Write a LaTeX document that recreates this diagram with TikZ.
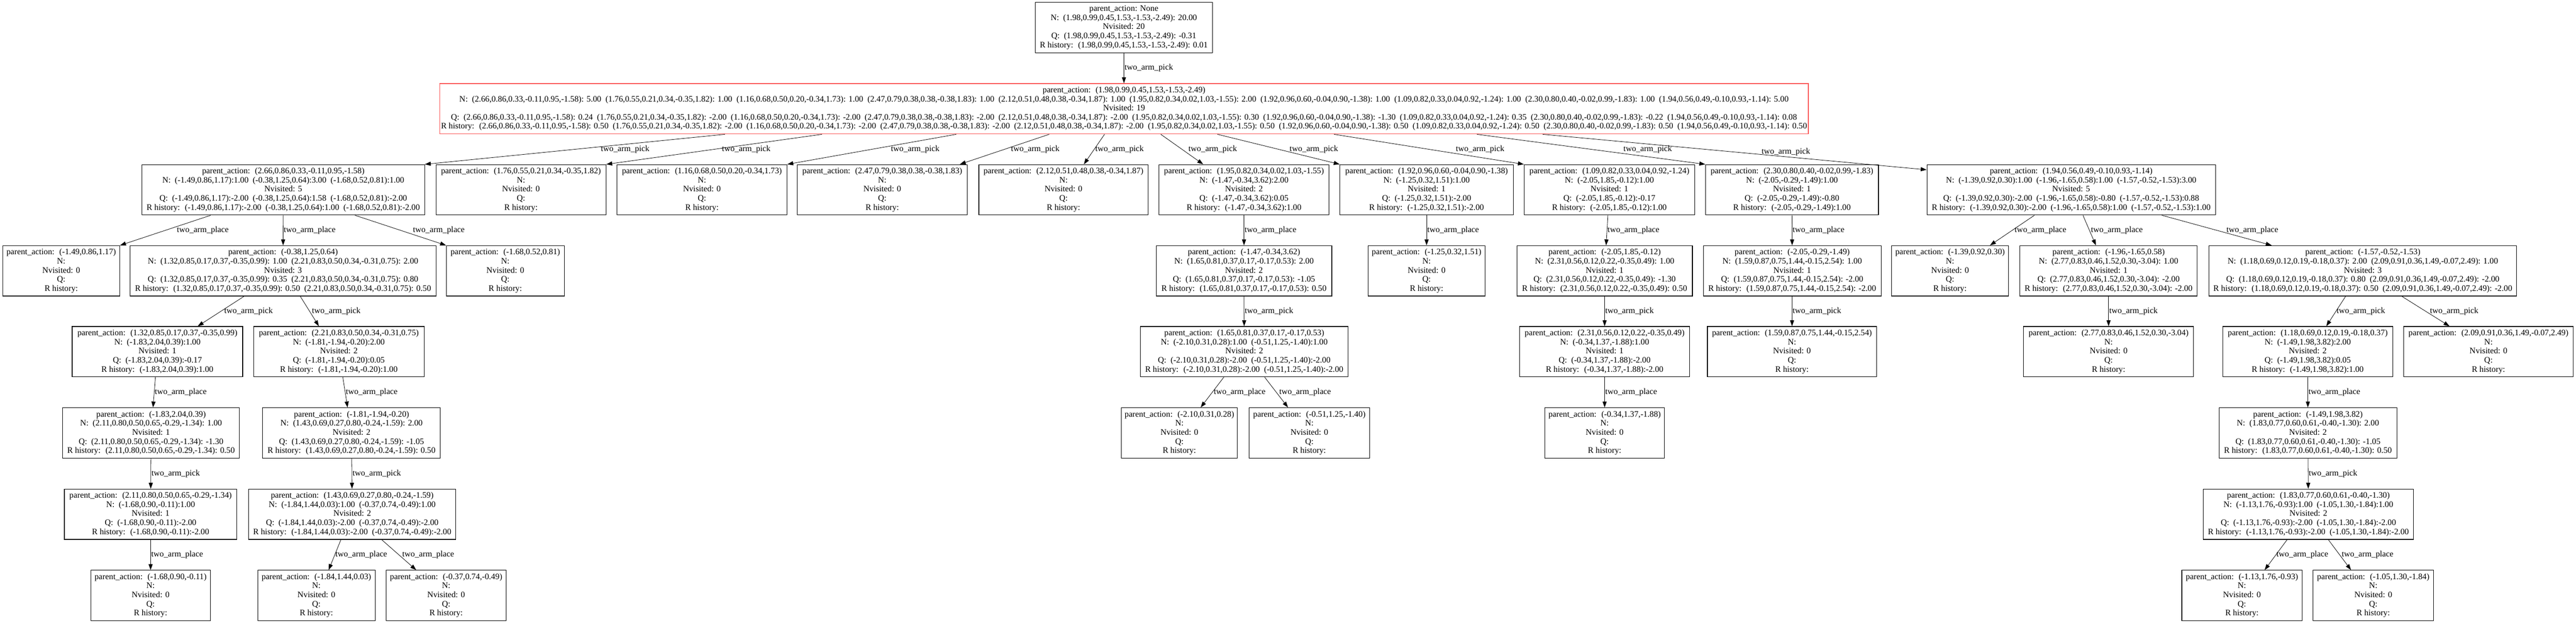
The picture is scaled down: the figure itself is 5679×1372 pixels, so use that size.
\documentclass[tikz,border=0pt]{standalone}
\usepackage{fontspec}
\setmainfont{Liberation Serif}
\usetikzlibrary{arrows.meta,positioning}
\definecolor{hlred}{RGB}{250,85,85}
\newcommand{\leaf}[1]{parent\_action:~ #1\\N:\\Nvisited: 0\\Q:\\R history:}

\begin{document}
\begin{tikzpicture}[x=1pt, y=-1pt,
  box/.style={draw, rectangle, line width=1.3pt, minimum height=111pt, inner xsep=3pt, inner ysep=0pt, align=center, font=\fontsize{18.5}{20}\selectfont},
  hlbox/.style={box, draw=hlred, line width=1.6pt},
  link/.style={-{Triangle[length=13pt, width=9pt]}, line width=0.9pt},
  lbl/.style={midway, anchor=west, inner sep=1pt, font=\fontsize{18.5}{20}\selectfont}]
  \useasboundingbox (0,0) rectangle (5679,1372);

  % actions tried from the expanded node
  \def\actA{(2.66,0.86,0.33,-0.11,0.95,-1.58)}
  \def\actB{(1.76,0.55,0.21,0.34,-0.35,1.82)}
  \def\actC{(1.16,0.68,0.50,0.20,-0.34,1.73)}
  \def\actD{(2.47,0.79,0.38,0.38,-0.38,1.83)}
  \def\actE{(2.12,0.51,0.48,0.38,-0.34,1.87)}
  \def\actF{(1.95,0.82,0.34,0.02,1.03,-1.55)}
  \def\actG{(1.92,0.96,0.60,-0.04,0.90,-1.38)}
  \def\actH{(1.09,0.82,0.33,0.04,0.92,-1.24)}
  \def\actI{(2.30,0.80,0.40,-0.02,0.99,-1.83)}
  \def\actJ{(1.94,0.56,0.49,-0.10,0.93,-1.14)}
  \def\rootact{(1.98,0.99,0.45,1.53,-1.53,-2.49)}

  % Root and the highlighted node
  \node[box, minimum width=391] (root) at (2477.5,60.5) {parent\_action: None\\N:~ \rootact: 20.00\\Nvisited: 20\\Q:~ \rootact: -0.31\\R history:~ \rootact: 0.01};
  \node[hlbox, minimum width=3016] (top) at (2478,239.5) {parent\_action:~ \rootact\\
    N:~ \actA: 5.00~ \actB: 1.00~ \actC: 1.00~ \actD: 1.00~ \actE: 1.00~ \actF: 2.00~ \actG: 1.00~ \actH: 1.00~ \actI: 1.00~ \actJ: 5.00\\
    Nvisited: 19\\
    Q:~ \actA: 0.24~ \actB: -2.00~ \actC: -2.00~ \actD: -2.00~ \actE: -2.00~ \actF: 0.30~ \actG: -1.30~ \actH: 0.35~ \actI: -0.22~ \actJ: 0.08\\
    R history:~ \actA: 0.50~ \actB: -2.00~ \actC: -2.00~ \actD: -2.00~ \actE: -2.00~ \actF: 0.50~ \actG: 0.50~ \actH: 0.50~ \actI: 0.50~ \actJ: 0.50};

  % Level 2: ten picks
  \node[box, minimum width=623] (a) at (624.5,418) {parent\_action:~ \actA\\N:~ (-1.49,0.86,1.17):1.00~ (-0.38,1.25,0.64):3.00~ (-1.68,0.52,0.81):1.00\\Nvisited: 5\\Q:~ (-1.49,0.86,1.17):-2.00~ (-0.38,1.25,0.64):1.58~ (-1.68,0.52,0.81):-2.00\\R history:~ (-1.49,0.86,1.17):-2.00~ (-0.38,1.25,0.64):1.00~ (-1.68,0.52,0.81):-2.00};
  \node[box, minimum width=375] (b) at (1148.5,418) {\leaf{\actB}};
  \node[box, minimum width=375] (c) at (1547.5,418) {\leaf{\actC}};
  \node[box, minimum width=374] (d) at (1945,418) {\leaf{\actD}};
  \node[box, minimum width=373] (e) at (2344.5,418) {\leaf{\actE}};
  \node[box, minimum width=375] (f) at (2742.5,418) {parent\_action:~ \actF\\N:~ (-1.47,-0.34,3.62):2.00\\Nvisited: 2\\Q:~ (-1.47,-0.34,3.62):0.05\\R history:~ (-1.47,-0.34,3.62):1.00};
  \node[box, minimum width=382] (g) at (3145,418) {parent\_action:~ \actG\\N:~ (-1.25,0.32,1.51):1.00\\Nvisited: 1\\Q:~ (-1.25,0.32,1.51):-2.00\\R history:~ (-1.25,0.32,1.51):-2.00};
  \node[box, minimum width=376] (h) at (3548,418) {parent\_action:~ \actH\\N:~ (-2.05,1.85,-0.12):1.00\\Nvisited: 1\\Q:~ (-2.05,1.85,-0.12):-0.17\\R history:~ (-2.05,1.85,-0.12):1.00};
  \node[box, minimum width=381] (i) at (3950.5,418) {parent\_action:~ \actI\\N:~ (-2.05,-0.29,-1.49):1.00\\Nvisited: 1\\Q:~ (-2.05,-0.29,-1.49):-0.80\\R history:~ (-2.05,-0.29,-1.49):1.00};
  \node[box, minimum width=636] (j) at (4566,418) {parent\_action:~ \actJ\\N:~ (-1.39,0.92,0.30):1.00~ (-1.96,-1.65,0.58):1.00~ (-1.57,-0.52,-1.53):3.00\\Nvisited: 5\\Q:~ (-1.39,0.92,0.30):-2.00~ (-1.96,-1.65,0.58):-0.80~ (-1.57,-0.52,-1.53):0.88\\R history:~ (-1.39,0.92,0.30):-2.00~ (-1.96,-1.65,0.58):1.00~ (-1.57,-0.52,-1.53):1.00};

  % Level 3: places
  \node[box, minimum width=258] (a1) at (135,596.5) {\leaf{(-1.49,0.86,1.17)}};
  \node[box, minimum width=674] (a2) at (624,596.5) {parent\_action:~ (-0.38,1.25,0.64)\\N:~ (1.32,0.85,0.17,0.37,-0.35,0.99): 1.00~ (2.21,0.83,0.50,0.34,-0.31,0.75): 2.00\\Nvisited: 3\\Q:~ (1.32,0.85,0.17,0.37,-0.35,0.99): 0.35~ (2.21,0.83,0.50,0.34,-0.31,0.75): 0.80\\R history:~ (1.32,0.85,0.17,0.37,-0.35,0.99): 0.50~ (2.21,0.83,0.50,0.34,-0.31,0.75): 0.50};
  \node[box, minimum width=260] (a3) at (1114,596.5) {\leaf{(-1.68,0.52,0.81)}};
  \node[box, minimum width=387] (f1) at (2742.5,596.5) {parent\_action:~ (-1.47,-0.34,3.62)\\N:~ (1.65,0.81,0.37,0.17,-0.17,0.53): 2.00\\Nvisited: 2\\Q:~ (1.65,0.81,0.37,0.17,-0.17,0.53): -1.05\\R history:~ (1.65,0.81,0.37,0.17,-0.17,0.53): 0.50};
  \node[box, minimum width=258] (g1) at (3145,596.5) {\leaf{(-1.25,0.32,1.51)}};
  \node[box, minimum width=387] (h1) at (3537.5,596.5) {parent\_action:~ (-2.05,1.85,-0.12)\\N:~ (2.31,0.56,0.12,0.22,-0.35,0.49): 1.00\\Nvisited: 1\\Q:~ (2.31,0.56,0.12,0.22,-0.35,0.49): -1.30\\R history:~ (2.31,0.56,0.12,0.22,-0.35,0.49): 0.50};
  \node[box, minimum width=392] (i1) at (3951,596.5) {parent\_action:~ (-2.05,-0.29,-1.49)\\N:~ (1.59,0.87,0.75,1.44,-0.15,2.54): 1.00\\Nvisited: 1\\Q:~ (1.59,0.87,0.75,1.44,-0.15,2.54): -2.00\\R history:~ (1.59,0.87,0.75,1.44,-0.15,2.54): -2.00};
  \node[box, minimum width=258] (j1) at (4299,596.5) {\leaf{(-1.39,0.92,0.30)}};
  \node[box, minimum width=391] (j2) at (4648.5,596.5) {parent\_action:~ (-1.96,-1.65,0.58)\\N:~ (2.77,0.83,0.46,1.52,0.30,-3.04): 1.00\\Nvisited: 1\\Q:~ (2.77,0.83,0.46,1.52,0.30,-3.04): -2.00\\R history:~ (2.77,0.83,0.46,1.52,0.30,-3.04): -2.00};
  \node[box, minimum width=678] (j3) at (5209,596.5) {parent\_action:~ (-1.57,-0.52,-1.53)\\N:~ (1.18,0.69,0.12,0.19,-0.18,0.37): 2.00~ (2.09,0.91,0.36,1.49,-0.07,2.49): 1.00\\Nvisited: 3\\Q:~ (1.18,0.69,0.12,0.19,-0.18,0.37): 0.80~ (2.09,0.91,0.36,1.49,-0.07,2.49): -2.00\\R history:~ (1.18,0.69,0.12,0.19,-0.18,0.37): 0.50~ (2.09,0.91,0.36,1.49,-0.07,2.49): -2.00};

  % Level 4: picks
  \node[box, minimum width=376] (a2a) at (347,774.5) {parent\_action:~ (1.32,0.85,0.17,0.37,-0.35,0.99)\\N:~ (-1.83,2.04,0.39):1.00\\Nvisited: 1\\Q:~ (-1.83,2.04,0.39):-0.17\\R history:~ (-1.83,2.04,0.39):1.00};
  \node[box, minimum width=376] (a2b) at (747,774.5) {parent\_action:~ (2.21,0.83,0.50,0.34,-0.31,0.75)\\N:~ (-1.81,-1.94,-0.20):2.00\\Nvisited: 2\\Q:~ (-1.81,-1.94,-0.20):0.05\\R history:~ (-1.81,-1.94,-0.20):1.00};
  \node[box, minimum width=458] (f1a) at (2743,774.5) {parent\_action:~ (1.65,0.81,0.37,0.17,-0.17,0.53)\\N:~ (-2.10,0.31,0.28):1.00~ (-0.51,1.25,-1.40):1.00\\Nvisited: 2\\Q:~ (-2.10,0.31,0.28):-2.00~ (-0.51,1.25,-1.40):-2.00\\R history:~ (-2.10,0.31,0.28):-2.00~ (-0.51,1.25,-1.40):-2.00};
  \node[box, minimum width=375] (h1a) at (3537.5,774.5) {parent\_action:~ (2.31,0.56,0.12,0.22,-0.35,0.49)\\N:~ (-0.34,1.37,-1.88):1.00\\Nvisited: 1\\Q:~ (-0.34,1.37,-1.88):-2.00\\R history:~ (-0.34,1.37,-1.88):-2.00};
  \node[box, minimum width=373] (i1a) at (3950.5,774.5) {\leaf{(1.59,0.87,0.75,1.44,-0.15,2.54)}};
  \node[box, minimum width=375] (j2a) at (4648.5,774.5) {\leaf{(2.77,0.83,0.46,1.52,0.30,-3.04)}};
  \node[box, minimum width=375] (j3a) at (5087.5,774.5) {parent\_action:~ (1.18,0.69,0.12,0.19,-0.18,0.37)\\N:~ (-1.49,1.98,3.82):2.00\\Nvisited: 2\\Q:~ (-1.49,1.98,3.82):0.05\\R history:~ (-1.49,1.98,3.82):1.00};
  \node[box, minimum width=374] (j3b) at (5486,774.5) {\leaf{(2.09,0.91,0.36,1.49,-0.07,2.49)}};

  % Level 5: places
  \node[box, minimum width=390] (a2a1) at (333,953.5) {parent\_action:~ (-1.83,2.04,0.39)\\N:~ (2.11,0.80,0.50,0.65,-0.29,-1.34): 1.00\\Nvisited: 1\\Q:~ (2.11,0.80,0.50,0.65,-0.29,-1.34): -1.30\\R history:~ (2.11,0.80,0.50,0.65,-0.29,-1.34): 0.50};
  \node[box, minimum width=392] (a2b1) at (775,953.5) {parent\_action:~ (-1.81,-1.94,-0.20)\\N:~ (1.43,0.69,0.27,0.80,-0.24,-1.59): 2.00\\Nvisited: 2\\Q:~ (1.43,0.69,0.27,0.80,-0.24,-1.59): -1.05\\R history:~ (1.43,0.69,0.27,0.80,-0.24,-1.59): 0.50};
  \node[box, minimum width=256] (f1a1) at (2600,953.5) {\leaf{(-2.10,0.31,0.28)}};
  \node[box, minimum width=265] (f1a2) at (2886.5,953.5) {\leaf{(-0.51,1.25,-1.40)}};
  \node[box, minimum width=263] (h1a1) at (3537.5,953.5) {\leaf{(-0.34,1.37,-1.88)}};
  \node[box, minimum width=392] (j3a1) at (5088,953.5) {parent\_action:~ (-1.49,1.98,3.82)\\N:~ (1.83,0.77,0.60,0.61,-0.40,-1.30): 2.00\\Nvisited: 2\\Q:~ (1.83,0.77,0.60,0.61,-0.40,-1.30): -1.05\\R history:~ (1.83,0.77,0.60,0.61,-0.40,-1.30): 0.50};

  % Level 6: picks
  \node[box, minimum width=380] (a2a1a) at (332,1132.5) {parent\_action:~ (2.11,0.80,0.50,0.65,-0.29,-1.34)\\N:~ (-1.68,0.90,-0.11):1.00\\Nvisited: 1\\Q:~ (-1.68,0.90,-0.11):-2.00\\R history:~ (-1.68,0.90,-0.11):-2.00};
  \node[box, minimum width=457] (a2b1a) at (776.5,1132.5) {parent\_action:~ (1.43,0.69,0.27,0.80,-0.24,-1.59)\\N:~ (-1.84,1.44,0.03):1.00~ (-0.37,0.74,-0.49):1.00\\Nvisited: 2\\Q:~ (-1.84,1.44,0.03):-2.00~ (-0.37,0.74,-0.49):-2.00\\R history:~ (-1.84,1.44,0.03):-2.00~ (-0.37,0.74,-0.49):-2.00};
  \node[box, minimum width=464] (j3a1a) at (5089,1132.5) {parent\_action:~ (1.83,0.77,0.60,0.61,-0.40,-1.30)\\N:~ (-1.13,1.76,-0.93):1.00~ (-1.05,1.30,-1.84):1.00\\Nvisited: 2\\Q:~ (-1.13,1.76,-0.93):-2.00~ (-1.05,1.30,-1.84):-2.00\\R history:~ (-1.13,1.76,-0.93):-2.00~ (-1.05,1.30,-1.84):-2.00};

  % Level 7: places (leaves)
  \node[box, minimum width=264] (a2a1a1) at (332,1311.5) {\leaf{(-1.68,0.90,-0.11)}};
  \node[box, minimum width=259] (a2b1a1) at (697.5,1311.5) {\leaf{(-1.84,1.44,0.03)}};
  \node[box, minimum width=265] (a2b1a2) at (983.5,1311.5) {\leaf{(-0.37,0.74,-0.49)}};
  \node[box, minimum width=265] (j3a1a1) at (4942.5,1311.5) {\leaf{(-1.13,1.76,-0.93)}};
  \node[box, minimum width=266] (j3a1a2) at (5232,1311.5) {\leaf{(-1.05,1.30,-1.84)}};

  % Edges: picks out of the top node
  \draw[link] (root) -- (top) node[lbl] {two\_arm\_pick};
  \draw[link] ([xshift=-880pt]top.south) -- (a.north east) node[lbl, xshift=56pt] {two\_arm\_pick};
  \draw[link] ([xshift=-666pt]top.south) -- (b.north east) node[lbl, xshift=16pt] {two\_arm\_pick};
  \draw[link] ([xshift=-370pt]top.south) -- (c.north east) node[lbl, xshift=41pt] {two\_arm\_pick};
  \draw[link] ([xshift=-165pt]top.south) -- ([xshift=171pt]d.north) node[lbl, xshift=13pt] {two\_arm\_pick};
  \draw[link] ([xshift=-43pt]top.south) -- ([xshift=45pt]e.north) node[lbl, xshift=1pt] {two\_arm\_pick};
  \draw[link] ([xshift=81pt]top.south) -- ([xshift=-90pt]f.north) node[lbl, xshift=13pt] {two\_arm\_pick};
  \draw[link] ([xshift=206pt]top.south) -- (g.north west) node[lbl, xshift=23pt] {two\_arm\_pick};
  \draw[link] ([xshift=463pt]top.south) -- (h.north west) node[lbl, xshift=58pt] {two\_arm\_pick};
  \draw[link] ([xshift=778pt]top.south) -- (i.north west) node[lbl, xshift=70pt] {two\_arm\_pick};
  \draw[link] ([xshift=923pt]top.south) -- ([yshift=-12pt]j.north west) node[lbl, xshift=58pt] {two\_arm\_pick};

  % Level 2 -> 3
  \draw[link] ([xshift=-160pt]a.south) -- (a1.north east) node[lbl, xshift=24pt] {two\_arm\_place};
  \draw[link] (a) -- (a2) node[lbl] {two\_arm\_place};
  \draw[link] ([xshift=158pt]a.south) -- (a3.north west) node[lbl, xshift=26pt] {two\_arm\_place};
  \draw[link] (f) -- (f1) node[lbl] {two\_arm\_place};
  \draw[link] (g) -- (g1) node[lbl] {two\_arm\_place};
  \draw[link] (h) -- (h1) node[lbl] {two\_arm\_place};
  \draw[link] (i) -- (i1) node[lbl] {two\_arm\_place};
  \draw[link] ([xshift=-81pt]j.south) -- ([xshift=88pt]j1.north) node[lbl, xshift=4pt] {two\_arm\_place};
  \draw[link] ([xshift=26pt]j.south) -- ([xshift=-28pt]j2.north) node[lbl, xshift=2pt] {two\_arm\_place};
  \draw[link] ([xshift=200pt]j.south) -- ([xshift=-201pt]j3.north) node[lbl, xshift=20pt] {two\_arm\_place};

  % Level 3 -> 4
  \draw[link] ([xshift=-86pt]a2.south) -- ([xshift=89pt]a2a.north) node[lbl, xshift=6pt] {two\_arm\_pick};
  \draw[link] ([xshift=38pt]a2.south) -- ([xshift=-44pt]a2b.north) node[lbl, xshift=4pt] {two\_arm\_pick};
  \draw[link] (f1) -- (f1a) node[lbl] {two\_arm\_pick};
  \draw[link] (h1) -- (h1a) node[lbl] {two\_arm\_pick};
  \draw[link] (i1) -- (i1a) node[lbl] {two\_arm\_pick};
  \draw[link] (j2) -- (j2a) node[lbl] {two\_arm\_pick};
  \draw[link] ([xshift=-38pt]j3.south) -- ([xshift=41pt]j3a.north) node[lbl] {two\_arm\_pick};
  \draw[link] ([xshift=86pt]j3.south) -- ([xshift=-86pt]j3b.north) node[lbl, xshift=8pt] {two\_arm\_pick};

  % Level 4 -> 5
  \draw[link] (a2a) -- (a2a1) node[lbl] {two\_arm\_place};
  \draw[link] (a2b) -- (a2b1) node[lbl] {two\_arm\_place};
  \draw[link] ([xshift=-45pt]f1a.south) -- ([xshift=47pt]f1a1.north) node[lbl, xshift=2pt] {two\_arm\_place};
  \draw[link] ([xshift=45pt]f1a.south) -- ([xshift=-47pt]f1a2.north) node[lbl, xshift=5pt] {two\_arm\_place};
  \draw[link] (h1a) -- (h1a1) node[lbl] {two\_arm\_place};
  \draw[link] (j3a) -- (j3a1) node[lbl] {two\_arm\_place};

  % Level 5 -> 6
  \draw[link] (a2a1) -- (a2a1a) node[lbl] {two\_arm\_pick};
  \draw[link] (a2b1) -- (a2b1a) node[lbl] {two\_arm\_pick};
  \draw[link] (j3a1) -- (j3a1a) node[lbl] {two\_arm\_pick};

  % Level 6 -> 7
  \draw[link] (a2a1a) -- (a2a1a1) node[lbl] {two\_arm\_place};
  \draw[link] ([xshift=-25pt]a2b1a.south) -- ([xshift=27pt]a2b1a1.north) node[lbl] {two\_arm\_place};
  \draw[link] ([xshift=65pt]a2b1a.south) -- ([xshift=-66pt]a2b1a2.north) node[lbl, xshift=6pt] {two\_arm\_place};
  \draw[link] ([xshift=-47pt]j3a1a.south) -- ([xshift=50pt]j3a1a1.north) node[lbl] {two\_arm\_place};
  \draw[link] ([xshift=44pt]j3a1a.south) -- ([xshift=-49pt]j3a1a2.north) node[lbl, xshift=3pt] {two\_arm\_place};
\end{tikzpicture}
\end{document}
